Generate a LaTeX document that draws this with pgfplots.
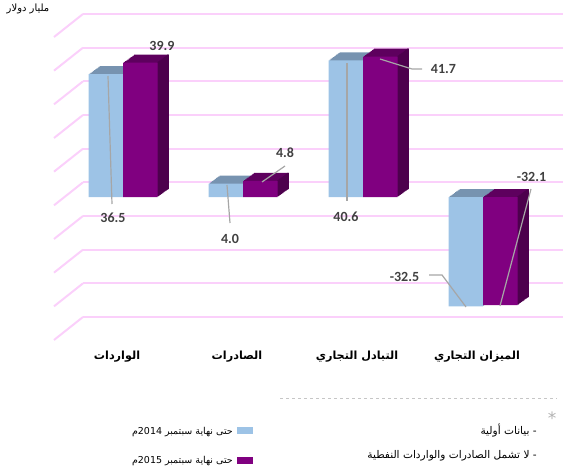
\documentclass[border=0pt]{standalone}
\usepackage{fontspec}
\usepackage{pgfplots}
\usepackage{pgfplotstable}
\pgfplotsset{compat=1.18}
\TeXXeTstate=1
\newfontfamily\arabicfont[Script=Arabic]{DejaVu Sans}
\newfontfamily\numfont{Carlito}
\newfontfamily\symfont{DejaVu Sans}
\definecolor{blueFront}{HTML}{9DC3E6}
\definecolor{blueTop}{HTML}{7793B0}
\definecolor{purpleFront}{HTML}{800080}
\definecolor{purpleTop}{HTML}{5E005E}
\definecolor{purpleSide}{HTML}{4D004D}
\definecolor{gridpink}{HTML}{FBD0FB}
\definecolor{leader}{HTML}{A6A6A6}
\definecolor{lbl}{HTML}{404040}

\pgfplotstableread{
x a b
0 36.5 39.9
1 4.0 4.8
2 40.6 41.7
3 -32.5 -32.1
}\tradedata

\begin{document}
\begin{tikzpicture}
\useasboundingbox (0,0) rectangle (563pt,473pt);
\begin{axis}[
  at={(83pt,156pt)}, anchor=south west,
  scale only axis, width=480pt, height=303pt,
  xmin=-0.33333, xmax=3.66667, ymin=-40, ymax=50,
  clip=false,
  axis line style={draw=none},
  major tick length=0pt,
  ytick={-40,-30,...,50}, yticklabels={},
  ymajorgrids, grid style={gridpink, line width=2pt},
  xtick={0,1,2,3},
  xticklabels={
    {\arabicfont\bfseries\beginR الواردات\endR},
    {\arabicfont\bfseries\beginR الصادرات\endR},
    {\arabicfont\bfseries\beginR التبادل التجاري\endR},
    {\arabicfont\bfseries\beginR الميزان التجاري\endR}},
  xticklabel style={anchor=center, yshift=-40pt, xshift=-6pt, font=\fontsize{11.2}{13}\selectfont},
]
% diagonal side-wall grid segments
\pgfplotsinvokeforeach{-40,-30,-20,-10,0,10,20,30,40,50}{
  \draw[gridpink, line width=2pt] (axis cs:-0.33333,#1) -- ++(-29pt,-23pt);
}
% top faces (shifted copies)
\pgfplotsinvokeforeach{1,2,3,4,5,6,7,8,9,10}{
  \addplot[ybar, bar width=34.5pt, bar shift=-17.25pt, fill=blueTop, draw=none,
    xshift={1.1pt*#1}, yshift={-14.7pt+0.8pt*#1}, forget plot] table[x=x,y=a]{\tradedata};
}
\pgfplotsinvokeforeach{1,2,3,4,5,6,7,8,9,10}{
  \addplot[ybar, bar width=34.5pt, bar shift=17.25pt, fill=purpleTop, draw=none,
    xshift={1.1pt*#1}, yshift={-14.7pt+0.8pt*#1}, forget plot] table[x=x,y=b]{\tradedata};
}
% side faces (thin strips)
\pgfplotsinvokeforeach{1,2,3,4,5,6,7,8,9,10}{
  \addplot[ybar, bar width=1.6pt, bar shift=33.95pt, fill=purpleSide, draw=none,
    xshift={1.1pt*#1}, yshift={-14.7pt+0.8pt*#1}, forget plot] table[x=x,y=b]{\tradedata};
}
% front faces
\addplot[ybar, bar width=34.5pt, bar shift=-17.25pt, fill=blueFront, draw=none,
  yshift=-14.7pt, forget plot] table[x=x,y=a]{\tradedata};
\addplot[ybar, bar width=34.5pt, bar shift=17.25pt, fill=purpleFront, draw=none,
  yshift=-14.7pt, forget plot] table[x=x,y=b]{\tradedata};
\end{axis}

% leader lines
\begin{scope}[leader, line width=1.2pt]
\draw (108pt,397pt) -- (112pt,269pt);
\draw (227pt,288pt) -- (230pt,250pt);
\draw (262pt,291pt) -- (285pt,307pt);
\draw (347pt,410pt) -- (347pt,272pt);
\draw (380pt,414pt) -- (412pt,404pt) -- (422pt,404pt);
\draw (429pt,198pt) -- (442pt,198pt) -- (466pt,166pt);
\draw (500pt,167pt) -- (531pt,284pt);
\end{scope}
% value labels
\begin{scope}[every node/.style={text=lbl, font=\numfont\bfseries\fontsize{14}{16}\selectfont, inner sep=0pt}]
\node at (113pt,255pt) {36.5};
\node at (162pt,427pt) {39.9};
\node at (230pt,234pt) {4.0};
\node at (285pt,320pt) {4.8};
\node at (346pt,256pt) {40.6};
\node at (443.5pt,403.5pt) {41.7};
\node at (404.5pt,196pt) {-32.5};
\node at (531.5pt,296pt) {-32.1};
\end{scope}
% unit title
\node[font=\arabicfont\fontsize{10}{11}\selectfont, inner sep=0pt] at (28pt,464pt) {\beginR مليار دولار\endR};
% legend
\fill[blueFront] (237pt,39pt) rectangle (253pt,46pt);
\fill[purpleFront] (237pt,9pt) rectangle (253pt,16pt);
\node[anchor=east, inner sep=0pt, font=\arabicfont\fontsize{9.5}{11}\selectfont] at (233pt,41pt) {\beginR حتى نهاية سبتمبر \beginL2014\endL{}م\endR};
\node[anchor=east, inner sep=0pt, font=\arabicfont\fontsize{9.5}{11}\selectfont] at (233pt,12pt) {\beginR حتى نهاية سبتمبر \beginL2015\endL{}م\endR};
% notes
\draw[gray!45, dashed, line width=0.8pt] (280pt,75pt) -- (557pt,75pt);
\node[text=gray!60, font=\symfont\fontsize{17}{17}\selectfont, inner sep=0pt] at (552pt,55pt) {*};
\node[anchor=east, inner sep=0pt, font=\arabicfont\fontsize{10.6}{12}\selectfont] at (537pt,42pt) {\beginR - بيانات أولية\endR};
\node[anchor=east, inner sep=0pt, font=\arabicfont\fontsize{10.6}{12}\selectfont] at (537pt,17pt) {\beginR - لا تشمل الصادرات والواردات النفطية\endR};
\end{tikzpicture}
\end{document}
